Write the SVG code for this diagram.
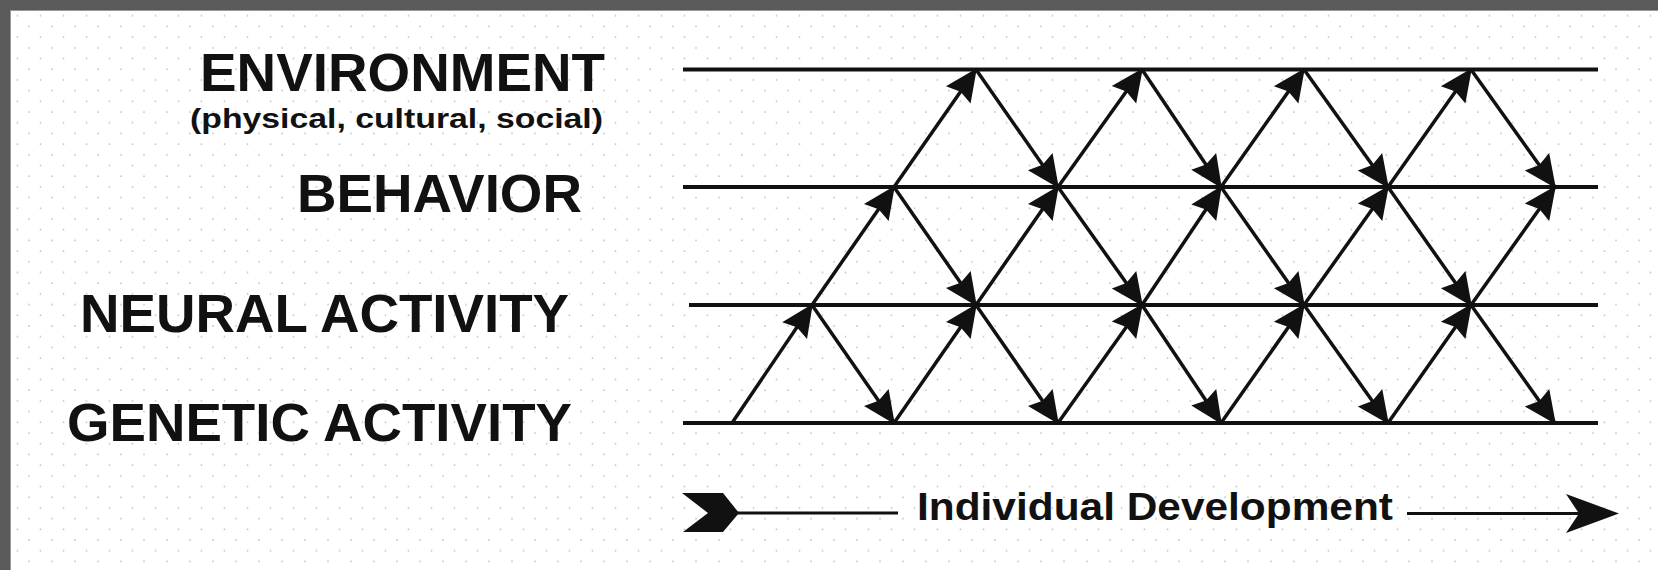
<svg xmlns="http://www.w3.org/2000/svg" width="1658" height="570" viewBox="0 0 1658 570">
  <style>
    .lbl { font-family: "Liberation Sans", Arial, Helvetica, sans-serif; font-weight: bold; fill: #111; }
    .row { stroke: #111; stroke-width: 3.8; fill: none; }
    .diag { stroke: #111; stroke-width: 3.5; fill: none; marker-end: url(#head); }
    .axis { stroke: #111; stroke-width: 3.2; fill: none; }
    .solid { fill: #111; stroke: none; }
  </style>
  <defs>
    <pattern id="dots" x="0" y="0" width="23" height="21.4" patternUnits="userSpaceOnUse">
      <circle cx="6" cy="5" r="0.9" fill="#c4c4c4"/>
      <circle cx="17.5" cy="15.7" r="0.9" fill="#c4c4c4"/>
    </pattern>
    <marker id="head" viewBox="-34 -18 36 36" markerWidth="36" markerHeight="36" refX="0" refY="0" orient="auto" markerUnits="userSpaceOnUse">
      <path d="M1.5,0 L-31,-15 L-27,0 L-31,15 Z" fill="#111"/>
    </marker>
  </defs>

  <!-- background -->
  <rect x="0" y="0" width="1658" height="570" fill="#ffffff"/>
  <rect x="0" y="0" width="1658" height="570" fill="url(#dots)"/>
  <rect x="0" y="0" width="1658" height="10" fill="#5a5a5a"/>
  <rect x="0" y="0" width="10" height="570" fill="#5a5a5a"/>
  <line x1="10" y1="10.5" x2="1658" y2="10.5" stroke="#9a9a9a" stroke-width="1"/>
  <line x1="10.5" y1="10" x2="10.5" y2="570" stroke="#9a9a9a" stroke-width="1"/>

  <!-- rows -->
  <g id="row-environment">
    <text class="lbl" x="605" y="91" font-size="54" text-anchor="end" textLength="405" lengthAdjust="spacingAndGlyphs">ENVIRONMENT</text>
    <text class="lbl" x="603" y="128" font-size="28" text-anchor="end" textLength="413" lengthAdjust="spacingAndGlyphs">(physical, cultural, social)</text>
    <line class="row" x1="683" y1="69.5" x2="1598" y2="69.5"/>
  </g>
  <g id="row-behavior">
    <text class="lbl" x="582" y="212" font-size="54" text-anchor="end" textLength="285" lengthAdjust="spacingAndGlyphs">BEHAVIOR</text>
    <line class="row" x1="683" y1="187" x2="1598" y2="187"/>
  </g>
  <g id="row-neural">
    <text class="lbl" x="569" y="332" font-size="54" text-anchor="end" textLength="489" lengthAdjust="spacingAndGlyphs">NEURAL ACTIVITY</text>
    <line class="row" x1="689" y1="305" x2="1598" y2="305"/>
  </g>
  <g id="row-genetic">
    <text class="lbl" x="572" y="441" font-size="54" text-anchor="end" textLength="505" lengthAdjust="spacingAndGlyphs">GENETIC ACTIVITY</text>
    <line class="row" x1="683" y1="423" x2="1598" y2="423"/>
  </g>

  <!-- development axis -->
  <g id="axis-development">
    <path class="solid" d="M682,493 L723,493 L739,513 L723,532 L683,532 L708,513 Z"/>
    <line class="axis" x1="735" y1="513" x2="898" y2="513"/>
    <text class="lbl" x="917" y="520" font-size="38" textLength="476" lengthAdjust="spacingAndGlyphs">Individual Development</text>
    <line class="axis" x1="1407" y1="513.5" x2="1590" y2="513.5"/>
    <path class="solid" d="M1619,513.5 L1566,494 L1579,513.5 L1566,533 Z"/>
  </g>

  <!-- connectors: x columns 732,812,894,976,1058,1142,1221,1304,1388,1471,1555 ; rows E=69.5 B=187 N=305 G=423 -->
  <g id="connectors">
    <!-- genetic -> neural (up) -->
    <line class="diag" x1="732" y1="423" x2="812" y2="305"/>
    <line class="diag" x1="894" y1="423" x2="976" y2="305"/>
    <line class="diag" x1="1058" y1="423" x2="1142" y2="305"/>
    <line class="diag" x1="1221" y1="423" x2="1304" y2="305"/>
    <line class="diag" x1="1388" y1="423" x2="1471" y2="305"/>
    <!-- neural -> behavior (up) -->
    <line class="diag" x1="812" y1="305" x2="894" y2="187"/>
    <line class="diag" x1="976" y1="305" x2="1058" y2="187"/>
    <line class="diag" x1="1142" y1="305" x2="1221" y2="187"/>
    <line class="diag" x1="1304" y1="305" x2="1388" y2="187"/>
    <line class="diag" x1="1471" y1="305" x2="1555" y2="187"/>
    <!-- behavior -> environment (up) -->
    <line class="diag" x1="894" y1="187" x2="976" y2="69.5"/>
    <line class="diag" x1="1058" y1="187" x2="1142" y2="69.5"/>
    <line class="diag" x1="1221" y1="187" x2="1304" y2="69.5"/>
    <line class="diag" x1="1388" y1="187" x2="1471" y2="69.5"/>
    <!-- environment -> behavior (down) -->
    <line class="diag" x1="976" y1="69.5" x2="1058" y2="187"/>
    <line class="diag" x1="1142" y1="69.5" x2="1221" y2="187"/>
    <line class="diag" x1="1304" y1="69.5" x2="1388" y2="187"/>
    <line class="diag" x1="1471" y1="69.5" x2="1555" y2="187"/>
    <!-- behavior -> neural (down) -->
    <line class="diag" x1="894" y1="187" x2="976" y2="305"/>
    <line class="diag" x1="1058" y1="187" x2="1142" y2="305"/>
    <line class="diag" x1="1221" y1="187" x2="1304" y2="305"/>
    <line class="diag" x1="1388" y1="187" x2="1471" y2="305"/>
    <!-- neural -> genetic (down) -->
    <line class="diag" x1="812" y1="305" x2="894" y2="423"/>
    <line class="diag" x1="976" y1="305" x2="1058" y2="423"/>
    <line class="diag" x1="1142" y1="305" x2="1221" y2="423"/>
    <line class="diag" x1="1304" y1="305" x2="1388" y2="423"/>
    <line class="diag" x1="1471" y1="305" x2="1555" y2="423"/>
  </g>
</svg>
